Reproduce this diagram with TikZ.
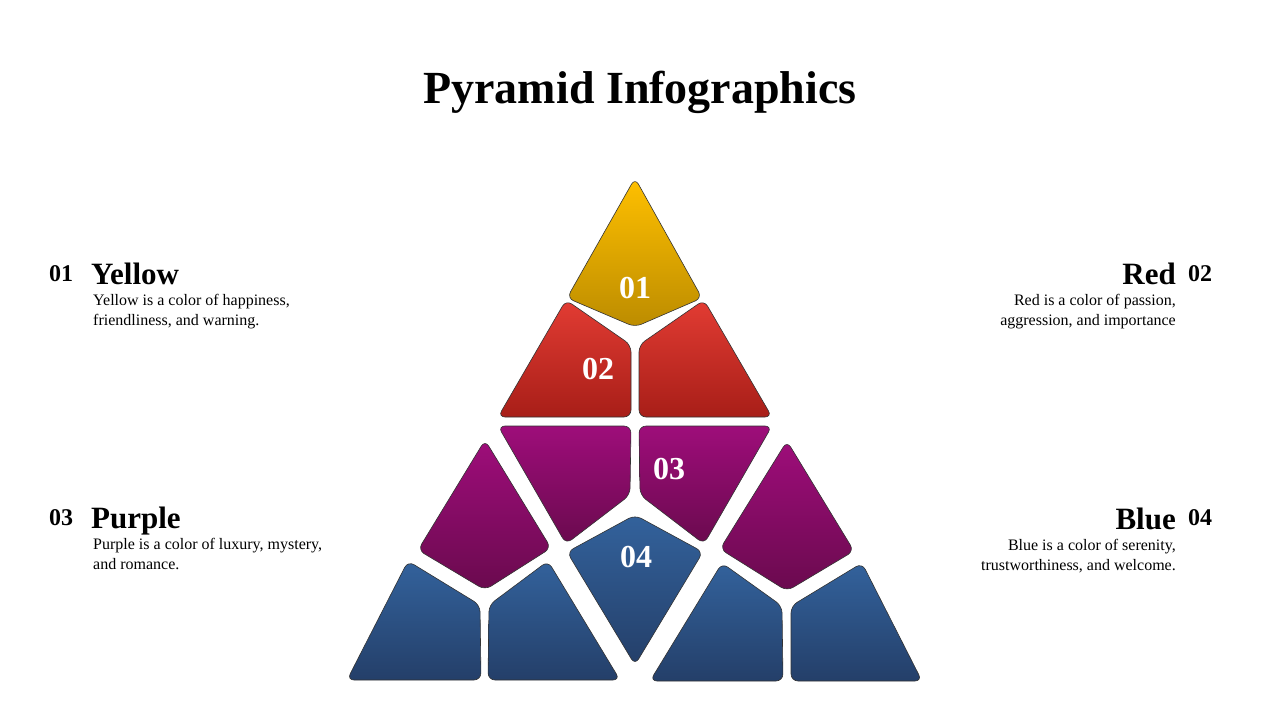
\documentclass[tikz,border=0pt]{standalone}
\usepackage{fontspec}
\setmainfont{Liberation Serif}
\usetikzlibrary{positioning}
\definecolor{yeltop}{HTML}{FFC000}
\definecolor{yelbot}{HTML}{BC8C00}
\definecolor{redtop}{HTML}{E23C33}
\definecolor{redbot}{HTML}{A81E18}
\definecolor{purtop}{HTML}{9E0D7A}
\definecolor{purbot}{HTML}{6A0A4E}
\definecolor{blutop}{HTML}{33629C}
\definecolor{blubot}{HTML}{243F69}

\begin{document}
\begin{tikzpicture}[x=1pt,y=-1pt]
  \tikzstyle{piece} = [draw=black!80, line width=0.6pt, rounded corners=7pt, shading=axis, shading angle=0]
  \tikzstyle{yel} = [piece, top color=yeltop, bottom color=yelbot]
  \tikzstyle{red} = [piece, top color=redtop, bottom color=redbot]
  \tikzstyle{pur} = [piece, top color=purtop, bottom color=purbot]
  \tikzstyle{blu} = [piece, top color=blutop, bottom color=blubot]
  \tikzstyle{num} = [text=white, font=\bfseries\fontsize{32}{32}\selectfont]
  \tikzstyle{idx} = [font=\bfseries\fontsize{24}{24}\selectfont, inner sep=0pt]
  \tikzstyle{head} = [font=\bfseries\fontsize{31}{31}\selectfont, inner sep=0pt]
  \tikzstyle{body} = [font=\fontsize{16}{20.5}\selectfont, inner sep=0pt]

  \useasboundingbox (0,0) rectangle (1280,720);
  \node (title) [font=\bfseries\fontsize{46}{46}\selectfont] at (640,92) {Pyramid Infographics};

  % pyramid pieces
  \path [yel] (635,178) -- (702,298) -- (635,327) -- (567,298) -- cycle;
  \path [red] (566,300) -- (631,345) -- (631,417) -- (498,417) -- cycle;
  \path [red] (704,300) -- (639,345) -- (639,417) -- (772,417) -- cycle;
  \path [pur] (498,426) -- (631,426) -- (630,495) -- (566,544) -- cycle;
  \path [pur] (772,426) -- (639,426) -- (640,495) -- (704,544) -- cycle;
  \path [pur] (485,440) -- (551,548) -- (485,590) -- (418,550) -- cycle;
  \path [pur] (787,441) -- (720,549) -- (787,591) -- (854,551) -- cycle;
  \path [blu] (635,515) -- (703,552) -- (635,665) -- (567,552) -- cycle;
  \path [blu] (408,561) -- (480,605) -- (481,680) -- (347,680) -- cycle;
  \path [blu] (548,561) -- (620,680) -- (488,680) -- (489,605) -- cycle;
  \path [blu] (722,563) -- (650,681) -- (783,681) -- (782,606) -- cycle;
  \path [blu] (862,563) -- (922,681) -- (791,681) -- (791,606) -- cycle;

  \node (n1) [num] at (635,288) {01};
  \node (n2) [num] at (598,369) {02};
  \node (n3) [num] at (669,469) {03};
  \node (n4) [num] at (636,557) {04};

  % left side
  \node (i1) [idx, anchor=base west] at (49,281) {01};
  \node (h1) [head, anchor=base west] at (91,284) {Yellow};
  \node (t1) [body, anchor=north west, align=left] at (93,294) {Yellow is a color of happiness,\\friendliness, and warning.};
  \node (i3) [idx, anchor=base west] at (49,525) {03};
  \node (h3) [head, anchor=base west] at (91,528) {Purple};
  \node (t3) [body, anchor=north west, align=left] at (93,538) {Purple is a color of luxury, mystery,\\and romance.};

  % right side
  \node (i2) [idx, anchor=base west] at (1188,281) {02};
  \node (h2) [head, anchor=base east] at (1176,284) {Red};
  \node (t2) [body, anchor=north east, align=right] at (1176,294) {Red is a color of passion,\\aggression, and importance};
  \node (i4) [idx, anchor=base west] at (1188,525) {04};
  \node (h4) [head, anchor=base east] at (1176,529) {Blue};
  \node (t4) [body, anchor=north east, align=right] at (1176,539) {Blue is a color of serenity,\\trustworthiness, and welcome.};
\end{tikzpicture}
\end{document}
